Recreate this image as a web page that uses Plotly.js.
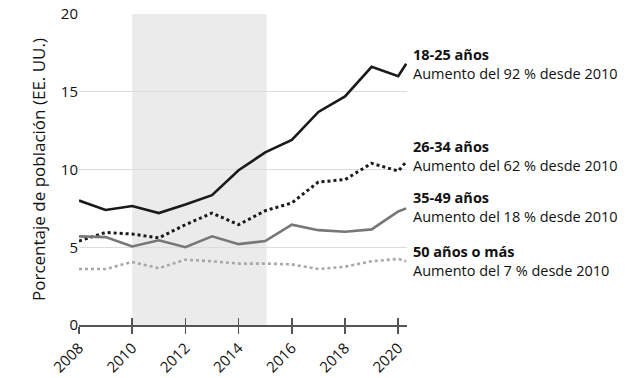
<!DOCTYPE html>
<html><head><meta charset="utf-8">
<script src="https://cdn.plot.ly/plotly-3.0.1.min.js"></script>
<style>html,body{margin:0;padding:0;background:#fff}#chart{width:644px;height:378px}</style>
</head><body><div id="chart"></div>
<script>
var years = [2008,2009,2010,2011,2012,2013,2014,2015,2016,2017,2018,2019,2020,2020.3];
var age18_25 = [8.0,7.4,7.65,7.2,7.75,8.35,9.95,11.1,11.9,13.7,14.7,16.6,16.0,16.8];
var age26_34 = [5.4,5.95,5.85,5.6,6.45,7.2,6.45,7.35,7.85,9.2,9.35,10.4,9.9,10.5];
var age35_49 = [5.7,5.65,5.05,5.45,5.0,5.7,5.2,5.4,6.45,6.1,6.0,6.15,7.3,7.5];
var age50plus = [3.6,3.6,4.05,3.65,4.2,4.1,3.95,3.95,3.9,3.6,3.75,4.1,4.25,4.1];
var groupNames = ["18-25 años","26-34 años","35-49 años","50 años o más"];
var increases = ["Aumento del 92 % desde 2010","Aumento del 62 % desde 2010","Aumento del 18 % desde 2010","Aumento del 7 % desde 2010"];
var labelY = [16.8, 10.9, 7.6, 4.1];
var shadeRange = [2010, 2015.05];
var tickYears = [2008,2010,2012,2014,2016,2018,2020];

var FONT = "Open Sans, sans-serif";
var series = [age18_25, age26_34, age35_49, age50plus];
var styles = [
  {color:"#1a1a1a", width:2.6, dash:"solid"},
  {color:"#1a1a1a", width:3, dash:"dot"},
  {color:"#777777", width:2.6, dash:"solid"},
  {color:"#a8a8a8", width:2.6, dash:"dot"}
];
var traces = series.map(function(s,i){
  return {x:years, y:s, type:"scatter", mode:"lines", line:styles[i], name:groupNames[i], hoverinfo:"skip", showlegend:false};
});
traces.push({x:[years[0]], y:[0], xaxis:"x2", mode:"markers", marker:{opacity:0}, showlegend:false, hoverinfo:"skip"});

var annotations = groupNames.map(function(n,i){
  return {xref:"paper", yref:"y", x:1.012, y:labelY[i], xanchor:"left", yanchor:"middle", align:"left",
    showarrow:false, text:"<b>"+n+"</b><br>"+increases[i], font:{family:FONT, size:14.5, color:"#111"}};
});

var xr = [2008, 2020.33];
var layout = {
  width:644, height:378,
  margin:{l:79, r:237, t:14, b:53},
  paper_bgcolor:"#fff", plot_bgcolor:"#fff",
  font:{family:FONT, color:"#111"},
  shapes:[{type:"rect", xref:"x", yref:"y", x0:shadeRange[0], x1:shadeRange[1], y0:0, y1:20,
    fillcolor:"#ebebeb", line:{width:0}, layer:"below"}],
  xaxis:{range:xr, tickvals:tickYears, ticktext:tickYears.map(String), tickangle:-45,
    showgrid:false, zeroline:false, showline:true, linecolor:"#555", linewidth:1.5,
    ticks:"outside", ticklen:7, tickwidth:1.5, tickcolor:"#555",
    tickfont:{family:FONT, size:15, color:"#111"}},
  xaxis2:{range:xr, overlaying:"x", anchor:"y", side:"bottom", tickvals:tickYears, showticklabels:false,
    showgrid:false, zeroline:false, showline:false, ticks:"inside", ticklen:7, tickwidth:1.5, tickcolor:"#555"},
  yaxis:{range:[0,20], tickvals:[0,5,10,15,20], showgrid:true, gridcolor:"#dcdcdc", gridwidth:1.2,
    zeroline:false, showline:false, ticks:"", tickfont:{family:FONT, size:15, color:"#111"},
    title:{text:"Porcentaje de población (EE. UU.)", font:{family:FONT, size:17, color:"#111"}, standoff:10}},
  annotations:annotations
};
Plotly.newPlot("chart", traces, layout, {staticPlot:true, displayModeBar:false});
</script></body></html>
